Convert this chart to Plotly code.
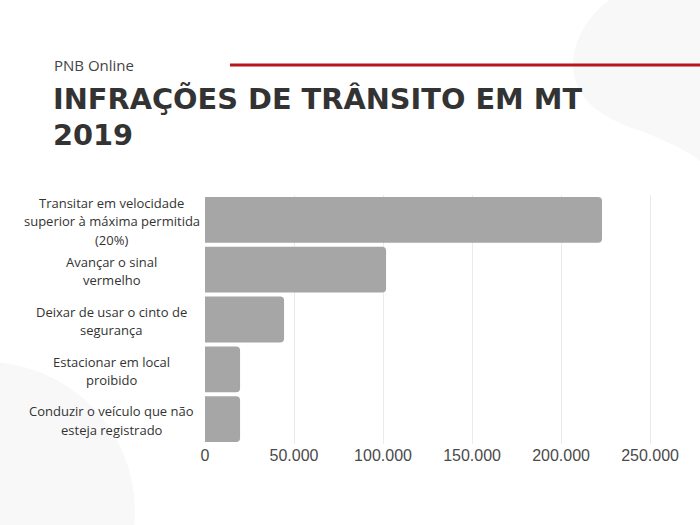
import plotly.graph_objects as go

categories = [
    "Transitar em velocidade<br>superior à máxima permitida<br>(20%)",
    "Avançar o sinal<br>vermelho",
    "Deixar de usar o cinto de<br>segurança",
    "Estacionar em local<br>proibido",
    "Conduzir o veículo que não<br>esteja registrado",
]
values = [223000, 101700, 44400, 19700, 19700]
tick_vals = [0, 50000, 100000, 150000, 200000, 250000]
tick_text = ["0", "50.000", "100.000", "150.000", "200.000", "250.000"]

W, H = 700, 525
L, R, T, B = 205, 20, 194.5, 80.5
pw = W - L - R
ph = H - T - B


def px(x):
    return (x - L) / pw


def py(y):
    return (H - B - y) / ph


fig = go.Figure()
fig.add_trace(go.Bar(
    x=values, y=categories, orientation="h",
    marker=dict(color="#a6a6a6", cornerradius=4, line=dict(width=0)),
    hoverinfo="skip",
))

shapes = []
# background blobs
blob = [(615, -5), (590, 10), (572, 40), (573, 65), (574, 95), (595, 115), (640, 130),
        (665, 140), (690, 150), (705, 165)]
p = "M {},{} ".format(px(blob[0][0]), py(blob[0][1]))
p += "C {},{} {},{} {},{} ".format(px(blob[1][0]), py(blob[1][1]), px(blob[2][0]), py(blob[2][1]), px(blob[3][0]), py(blob[3][1]))
p += "C {},{} {},{} {},{} ".format(px(blob[4][0]), py(blob[4][1]), px(blob[5][0]), py(blob[5][1]), px(blob[6][0]), py(blob[6][1]))
p += "C {},{} {},{} {},{} ".format(px(blob[7][0]), py(blob[7][1]), px(blob[8][0]), py(blob[8][1]), px(blob[9][0]), py(blob[9][1]))
p += "L {},{} Z".format(px(705), py(-5))
shapes.append(dict(type="path", xref="paper", yref="paper", path=p,
                   fillcolor="#f8f8f8", line=dict(width=0), layer="below"))
shapes.append(dict(type="circle", xref="paper", yref="paper",
                   x0=px(-165), x1=px(135), y0=py(662), y1=py(362),
                   fillcolor="#f8f8f8", line=dict(width=0), layer="below"))
# red rule
shapes.append(dict(type="line", xref="paper", yref="paper",
                   x0=px(230), x1=px(700), y0=py(64), y1=py(64),
                   line=dict(color="#b8141b", width=3)))

annotations = []
LINE_H = 18.5
for c in categories:
    lines = c.split("<br>")
    n = len(lines)
    for j, ln in enumerate(lines):
        annotations.append(dict(
            text=ln, x=px(111.5), xref="paper", y=c, yref="y",
            yshift=((n - 1) / 2 - j) * LINE_H - 1.5,
            xanchor="center", yanchor="middle", align="center", showarrow=False,
            font=dict(family="Open Sans", size=13, color="#333333"),
        ))
annotations.append(dict(
    text="PNB Online", x=px(52), y=py(64), xref="paper", yref="paper",
    xanchor="left", yanchor="middle", showarrow=False,
    font=dict(family="Open Sans", size=15, color="#444444"),
))
annotations.append(dict(
    text="INFRAÇÕES DE TRÂNSITO EM MT", x=px(51), y=py(98), xref="paper", yref="paper",
    xanchor="left", yanchor="middle", showarrow=False,
    font=dict(family="DejaVu Sans", size=28.8, color="#333333", weight="bold"),
))
annotations.append(dict(
    text="2019", x=px(51), y=py(134), xref="paper", yref="paper",
    xanchor="left", yanchor="middle", showarrow=False,
    font=dict(family="DejaVu Sans", size=28.8, color="#333333", weight="bold"),
))

fig.update_layout(
    width=W, height=H,
    margin=dict(l=L, r=R, t=T, b=B, pad=0),
    paper_bgcolor="white", plot_bgcolor="rgba(0,0,0,0)",
    showlegend=False, bargap=0.08,
    shapes=shapes, annotations=annotations,
    xaxis=dict(range=[0, 266800], tickvals=tick_vals, ticktext=tick_text,
               showgrid=True, gridcolor="#ebebeb", gridwidth=1, zeroline=False,
               showline=False, ticks="",
               tickfont=dict(family="Liberation Sans", size=16, color="#4a4a4a")),
    yaxis=dict(range=[len(categories) - 0.5, -0.5], autorange=False,
               showticklabels=False, showgrid=False,
               zeroline=False, showline=False, ticks=""),
)

fig.write_html("out.html")
